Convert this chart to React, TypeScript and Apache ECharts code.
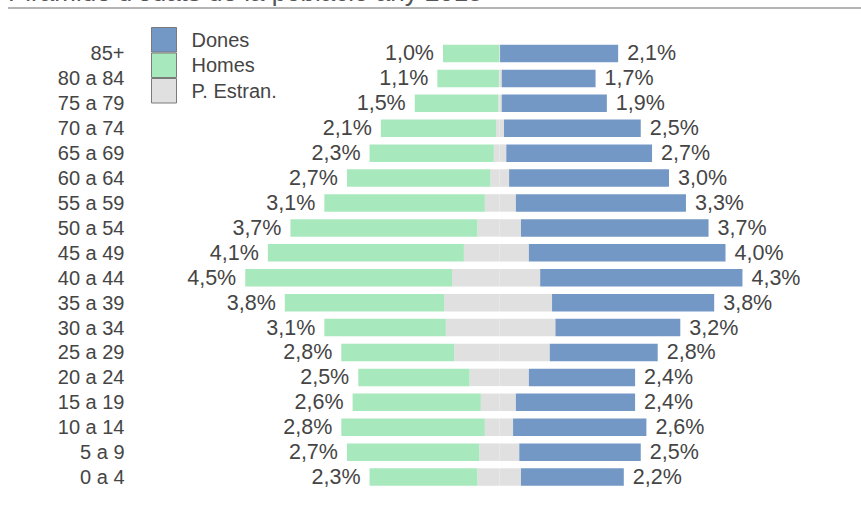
import React, { useEffect, useRef } from "react";
import * as echarts from "echarts";

const categories = ["85+", "80 a 84", "75 a 79", "70 a 74", "65 a 69", "60 a 64", "55 a 59", "50 a 54", "45 a 49", "40 a 44", "35 a 39", "30 a 34", "25 a 29", "20 a 24", "15 a 19", "10 a 14", "5 a 9", "0 a 4"];
// total % of men / women per age group (labels)
const homesTotal = [1.0, 1.1, 1.5, 2.1, 2.3, 2.7, 3.1, 3.7, 4.1, 4.5, 3.8, 3.1, 2.8, 2.5, 2.6, 2.8, 2.7, 2.3];
const donesTotal = [2.1, 1.7, 1.9, 2.5, 2.7, 3.0, 3.3, 3.7, 4.0, 4.3, 3.8, 3.2, 2.8, 2.4, 2.4, 2.6, 2.5, 2.2];
// foreign population share (men left of centre, women right)
const estranHomes = [0, 0.01, 0.02, 0.06, 0.1, 0.16, 0.26, 0.39, 0.63, 0.84, 0.98, 0.95, 0.8, 0.53, 0.33, 0.26, 0.36, 0.39];
const estranDones = [0.01, 0.04, 0.04, 0.08, 0.12, 0.17, 0.29, 0.38, 0.52, 0.72, 0.93, 0.99, 0.89, 0.52, 0.29, 0.24, 0.35, 0.38];

const TITLE = "Piràmide d'edats de la població any 2015";
const FONT = "'Liberation Sans', Arial, sans-serif";
const BLUE = "#7398c5";
const GREEN = "#a8e8bd";
const GREY = "#e0e0e0";
const TEXT = "#454545";

const fmt = (v: number) => v.toFixed(1).replace(".", ",") + "%";

export default function App() {
  const ref = useRef<HTMLDivElement>(null);
  useEffect(() => {
    if (!ref.current) return;
    const chart = echarts.init(ref.current, undefined, { renderer: "svg" });
    const homesNative = homesTotal.map((t, i) => -(t - estranHomes[i]));
    const donesNative = donesTotal.map((t, i) => t - estranDones[i]);
    chart.setOption({
      animation: false,
      backgroundColor: "#ffffff",
      textStyle: { fontFamily: FONT },
      graphic: [
        {
          type: "text",
          left: 8,
          top: -21,
          style: { text: TITLE, font: `26px ${FONT}`, fill: "#555" },
        },
        {
          type: "line",
          shape: { x1: 8, y1: 8, x2: 861, y2: 8 },
          style: { stroke: "#b5b5b5", lineWidth: 2 },
        },
      ],
      legend: {
        data: ["Dones", "Homes", "P. Estran."],
        orient: "vertical",
        left: 151,
        top: 27,
        padding: 0,
        itemGap: 0,
        itemWidth: 25,
        itemHeight: 24.5,
        icon: "rect",
        selectedMode: false,
        itemStyle: { borderColor: "#7a7a7a", borderWidth: 1 },
        textStyle: { fontSize: 20, color: TEXT, fontFamily: FONT, padding: [0, 0, 0, 10], lineHeight: 24.5 },
      },
      grid: { left: 160.5, right: 22.5, top: 41, bottom: 25.5, containLabel: false },
      xAxis: { type: "value", min: -6, max: 6, show: false },
      yAxis: {
        type: "category",
        data: categories,
        inverse: true,
        axisLine: { show: false },
        axisTick: { show: false },
        splitLine: { show: false },
        axisLabel: { interval: 0, fontSize: 20, color: TEXT, margin: 36, fontFamily: FONT },
      },
      series: [
        {
          name: "P. Estran.",
          type: "bar",
          stack: "pyr",
          barWidth: 17.5,
          data: estranHomes.map((v) => -v),
          itemStyle: { color: GREY },
        },
        {
          name: "Homes",
          type: "bar",
          stack: "pyr",
          barWidth: 17.5,
          data: homesNative,
          itemStyle: { color: GREEN },
          label: {
            show: true,
            position: "left",
            distance: 9,
            fontSize: 21.5,
            color: TEXT,
            fontFamily: FONT,
            formatter: (p: any) => fmt(homesTotal[p.dataIndex]),
          },
        },
        {
          name: "P. Estran.",
          type: "bar",
          stack: "pyr",
          barWidth: 17.5,
          data: estranDones,
          itemStyle: { color: GREY },
        },
        {
          name: "Dones",
          type: "bar",
          stack: "pyr",
          barWidth: 17.5,
          data: donesNative,
          itemStyle: { color: BLUE },
          label: {
            show: true,
            position: "right",
            distance: 9,
            fontSize: 21.5,
            color: TEXT,
            fontFamily: FONT,
            formatter: (p: any) => fmt(donesTotal[p.dataIndex]),
          },
        },
      ],
    });
    return () => chart.dispose();
  }, []);
  return (
    <div
      ref={ref}
      style={{ position: "fixed", left: 0, top: 0, width: 861, height: 515, background: "#fff" }}
    />
  );
}
